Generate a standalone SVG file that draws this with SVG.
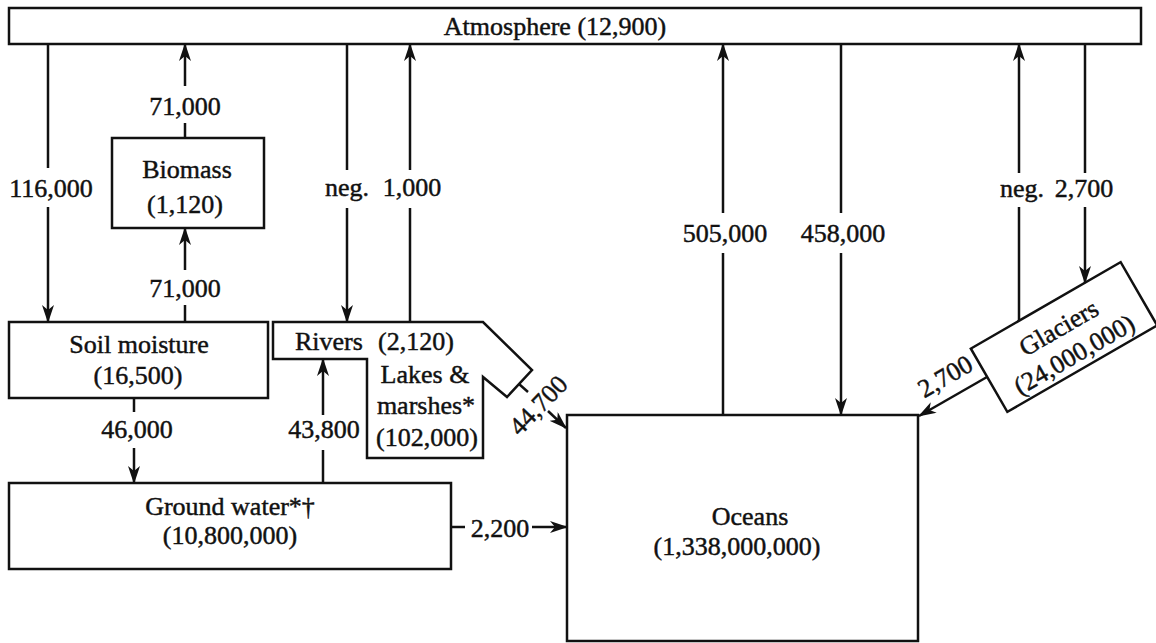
<svg xmlns="http://www.w3.org/2000/svg" width="1156" height="643" viewBox="0 0 1156 643">
<style>
.box{fill:#fff;stroke:#111;stroke-width:2.5}
.ln{fill:none;stroke:#111;stroke-width:2.5}
.ar{fill:none;stroke:#111;stroke-width:2.5;marker-end:url(#ah)}
text{font-family:"Liberation Serif","Times New Roman",serif;font-size:26px;fill:#111;stroke:#111;stroke-width:0.45;text-anchor:middle}
</style>
<defs>
<marker id="ah" viewBox="0 0 18 12" refX="17" refY="6" markerWidth="18" markerHeight="12" markerUnits="userSpaceOnUse" orient="auto">
<path d="M0,0 L18,6 L0,12 L5,6 Z" fill="#111"/>
</marker>
</defs>
<rect width="1156" height="643" fill="#fff"/>

<g id="atmosphere">
<rect class="box" x="9" y="8" width="1132" height="36"/>
<text x="555" y="35">Atmosphere (12,900)</text>
</g>

<g id="biomass">
<rect class="box" x="112" y="138" width="152" height="90"/>
<text x="187" y="178">Biomass</text>
<text x="185" y="213">(1,120)</text>
</g>

<g id="soil-moisture">
<rect class="box" x="9" y="322" width="259" height="76"/>
<text x="139" y="353">Soil moisture</text>
<text x="138" y="384">(16,500)</text>
</g>

<g id="rivers-lakes">
<path class="box" d="M273,322 L483,322 L532,370 L507,397 L483,377 L483,458 L367,458 L367,359 L273,359 Z"/>
<text x="295" y="350" style="text-anchor:start">Rivers</text>
<text x="378" y="350" style="text-anchor:start">(2,120)</text>
<text x="425" y="383">Lakes &amp;</text>
<text x="426" y="414">marshes*</text>
<text x="427" y="446">(102,000)</text>
</g>

<g id="ground-water">
<rect class="box" x="9" y="483" width="442" height="86"/>
<text x="230" y="515">Ground water*†</text>
<text x="230" y="544">(10,800,000)</text>
</g>

<g id="oceans">
<rect class="box" x="567" y="415" width="351" height="226"/>
<text x="750" y="525">Oceans</text>
<text x="737" y="555">(1,338,000,000)</text>
</g>

<g id="glaciers" transform="translate(1064,337) rotate(-30)">
<rect class="box" x="-86.5" y="-36.5" width="173" height="73"/>
<text x="0" y="-2">Glaciers</text>
<text x="0" y="29">(24,000,000)</text>
</g>

<g id="connectors">
<line class="ln" x1="48" y1="44" x2="48" y2="168"/>
<line class="ar" x1="48" y1="207" x2="48" y2="322"/>
<text x="51" y="197">116,000</text>
<line class="ln" x1="185" y1="138" x2="185" y2="123"/>
<line class="ar" x1="185" y1="86" x2="185" y2="44"/>
<text x="185" y="115">71,000</text>
<line class="ln" x1="185" y1="322" x2="185" y2="305"/>
<line class="ar" x1="185" y1="270" x2="185" y2="228"/>
<text x="185" y="297">71,000</text>
<line class="ln" x1="347" y1="44" x2="347" y2="170"/>
<line class="ar" x1="347" y1="208" x2="347" y2="322"/>
<text x="347" y="196">neg.</text>
<line class="ln" x1="410" y1="322" x2="410" y2="208"/>
<line class="ar" x1="410" y1="170" x2="410" y2="44"/>
<text x="412" y="196">1,000</text>
<line class="ln" x1="134" y1="398" x2="134" y2="412"/>
<line class="ar" x1="134" y1="448" x2="134" y2="483"/>
<text x="137" y="438">46,000</text>
<line class="ln" x1="323" y1="483" x2="323" y2="450"/>
<line class="ar" x1="323" y1="415" x2="323" y2="359"/>
<text x="324" y="438">43,800</text>
<line class="ln" x1="451" y1="527" x2="465" y2="527"/>
<line class="ar" x1="532" y1="527" x2="567" y2="527"/>
<text x="500" y="537">2,200</text>
<line class="ln" x1="519" y1="384" x2="528" y2="392"/>
<line class="ar" x1="548" y1="411" x2="566" y2="428"/>
<text transform="translate(538,405) rotate(-46)" x="0" y="9">44,700</text>
<line class="ln" x1="723" y1="415" x2="723" y2="253"/>
<line class="ar" x1="723" y1="213" x2="723" y2="44"/>
<text x="725" y="242">505,000</text>
<line class="ln" x1="841" y1="44" x2="841" y2="213"/>
<line class="ar" x1="841" y1="253" x2="841" y2="415"/>
<text x="843" y="242">458,000</text>
<line class="ln" x1="1019" y1="321" x2="1019" y2="207"/>
<line class="ar" x1="1019" y1="173" x2="1019" y2="44"/>
<text x="1022" y="197">neg.</text>
<line class="ln" x1="1085" y1="44" x2="1085" y2="173"/>
<line class="ar" x1="1085" y1="207" x2="1085" y2="283"/>
<text x="1084" y="197">2,700</text>
<line class="ar" x1="987" y1="377" x2="919" y2="416"/>
<text transform="translate(945,376) rotate(-30)" x="0" y="9">2,700</text>
</g>
</svg>
